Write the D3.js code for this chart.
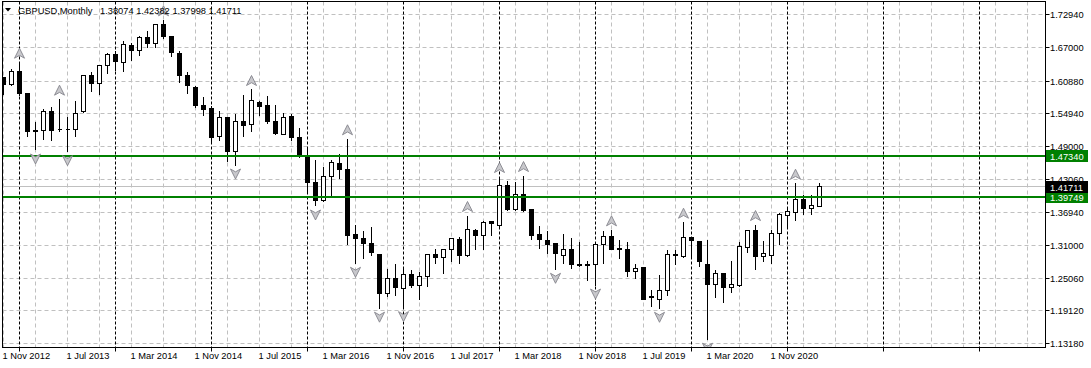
<!DOCTYPE html>
<html>
<head>
<meta charset="utf-8">
<script src="https://cdn.jsdelivr.net/npm/d3@7"></script>
<style>
  html, body { margin: 0; padding: 0; background: #ffffff; }
  svg { display: block; }
  text { font-family: "Liberation Sans", Arial, sans-serif; font-size: 9.3px; fill: #000; }
</style>
</head>
<body>
<svg id="chart" width="1091" height="368"></svg>
<script>
// ---------------- DATA ----------------
const symbolTitle = "GBPUSD,Monthly";
const firstMonth = "2012-11";   // first candle (monthly bars)

const opens = [1.6156,1.6018,1.6259,1.5867,1.5186,1.5186,1.5545,1.5211,1.5203,1.5212,
  1.5532,1.6194,1.6049,1.6376,1.6581,1.6430,1.6727,1.6654,1.6885,1.6776,
  1.7121,1.6896,1.6594,1.6199,1.5976,1.5649,1.5594,1.5078,1.5430,1.4805,
  1.5358,1.5303,1.5703,1.5636,1.5358,1.5121,1.5454,1.5067,1.4745,1.4249,
  1.3914,1.4350,1.4594,1.4485,1.3303,1.3230,1.3140,1.2927,1.2230,1.2503,
  1.2321,1.2576,1.2369,1.2532,1.2940,1.2878,1.3018,1.3212,1.2914,1.3381,
  1.3278,1.3532,1.3472,1.4199,1.3758,1.4036,1.3763,1.3303,1.3187,1.3127,
  1.2914,1.3036,1.2751,1.2745,1.2758,1.3109,1.3272,1.3030,1.3030,1.2623,
  1.2696,1.2158,1.2127,1.2278,1.2945,1.2896,1.3249,1.3181,1.2763,1.2399,
  1.2594,1.2340,1.2369,1.3067,1.3381,1.2896,1.2914,1.3321,1.3641,1.3703,
  1.3927,1.3776,1.38074];
const highs = [1.6165,1.6321,1.6441,1.5885,1.5350,1.5594,1.5623,1.5769,1.5454,1.5727,
  1.6205,1.6272,1.6394,1.6605,1.6654,1.6823,1.6787,1.6909,1.7005,1.7127,
  1.7212,1.6909,1.6654,1.6272,1.6000,1.5805,1.5636,1.5563,1.5450,1.5503,
  1.5836,1.5945,1.5745,1.5823,1.5672,1.5514,1.5503,1.5249,1.4896,1.4667,
  1.4540,1.4667,1.4776,1.5049,1.3490,1.3381,1.3454,1.2945,1.2685,1.2776,
  1.2714,1.2667,1.2623,1.2958,1.3049,1.3049,1.3249,1.3272,1.3654,1.3412,
  1.3563,1.3563,1.4363,1.4290,1.4260,1.4381,1.3770,1.3472,1.3369,1.3140,
  1.3309,1.3249,1.3169,1.2836,1.3145,1.3369,1.3394,1.3212,1.3181,1.2776,
  1.2714,1.2303,1.2581,1.3018,1.3018,1.3532,1.3260,1.3190,1.3200,1.2667,
  1.2600,1.2818,1.3181,1.3394,1.3490,1.3187,1.3394,1.3703,1.3805,1.4241,
  1.4018,1.4018,1.42382];
const lows = [1.5836,1.6000,1.5830,1.5078,1.4836,1.5030,1.5005,1.5181,1.4805,1.5090,
  1.5520,1.5896,1.5854,1.6230,1.6278,1.6259,1.6459,1.6545,1.6696,1.6696,
  1.6867,1.6532,1.6060,1.5867,1.5600,1.5472,1.4958,1.5007,1.4623,1.4563,
  1.5078,1.5169,1.5472,1.5321,1.5109,1.5109,1.5007,1.4700,1.4078,1.3818,
  1.3896,1.3987,1.4321,1.3109,1.2776,1.2867,1.2914,1.1960,1.2169,1.2199,
  1.1970,1.2340,1.2109,1.2351,1.2776,1.2594,1.2805,1.2776,1.2896,1.3030,
  1.3030,1.3290,1.3441,1.3740,1.3732,1.3714,1.3212,1.3049,1.2958,1.2667,
  1.2776,1.2685,1.2714,1.2472,1.2381,1.2776,1.3018,1.2867,1.2545,1.2503,
  1.2109,1.1999,1.1958,1.2199,1.2752,1.2880,1.2896,1.2714,1.1395,1.2150,
  1.2060,1.2241,1.2351,1.2976,1.2667,1.2805,1.2776,1.3121,1.3441,1.3550,
  1.3667,1.3667,1.37998];
const closes = [1.6018,1.6259,1.5867,1.5168,1.5168,1.5545,1.5186,1.5203,1.5211,1.5503,
  1.6194,1.6049,1.6376,1.6581,1.6441,1.6758,1.6654,1.6885,1.6776,1.7121,
  1.6896,1.6605,1.6199,1.6000,1.5636,1.5576,1.5067,1.5430,1.4805,1.5350,
  1.5278,1.5727,1.5623,1.5350,1.5127,1.5430,1.5067,1.4714,1.4241,1.3914,
  1.4363,1.4612,1.4485,1.3290,1.3223,1.3140,1.2976,1.2230,1.2503,1.2340,
  1.2569,1.2381,1.2545,1.2940,1.2878,1.3036,1.3218,1.2914,1.3394,1.3278,
  1.3521,1.3503,1.4199,1.3758,1.4036,1.3732,1.3290,1.3212,1.3121,1.2958,
  1.3036,1.2758,1.2740,1.2756,1.3109,1.3272,1.3030,1.3040,1.2623,1.2685,
  1.2127,1.2167,1.2290,1.2945,1.2925,1.3249,1.3187,1.2805,1.2399,1.2594,
  1.2340,1.2399,1.3090,1.3381,1.2896,1.2958,1.3321,1.3672,1.3714,1.3927,
  1.3776,1.3818,1.41711];

// Bill Williams fractals (bar indexes)
const fractalUp = [2, 7, 20, 31, 43, 58, 62, 65, 76, 85, 94, 99];
const fractalDown = [4, 8, 29, 39, 44, 47, 50, 69, 74, 82, 88];

// horizontal levels (green lines)
const levels = [1.47340, 1.39749];

// axis tick labels
const priceTicks = ["1.72940","1.67000","1.60880","1.54940","1.49000","1.43060",
  "1.36940","1.31000","1.25060","1.19120","1.13180"];
const timeTicks = ["1 Nov 2012","1 Jul 2013","1 Mar 2014","1 Nov 2014","1 Jul 2015",
  "1 Mar 2016","1 Nov 2016","1 Jul 2017","1 Mar 2018","1 Nov 2018","1 Jul 2019",
  "1 Mar 2020","1 Nov 2020"];

// ---------------- LAYOUT ----------------
const svg = d3.select("#chart");
const plot = { left: 2.5, top: 1.5, right: 1045.5, bottom: 347.5 };
const barSpacing = 8;

const start = d3.timeParse("%Y-%m")(firstMonth);
const bars = opens.map((o, i) => ({
  i, date: d3.timeMonth.offset(start, i), o, h: highs[i], l: lows[i], c: closes[i]
}));
const nBars = bars.length;

const x = d3.scaleLinear().domain([0, nBars - 1]).range([3.5, 3.5 + barSpacing * (nBars - 1)]);
const y = d3.scaleLinear().domain([1.1318, 1.7294]).range([343.5, 14.8]);
const crisp = v => Math.round(v - 0.5) + 0.5;

// clip
svg.append("defs").append("clipPath").attr("id", "clip")
  .append("rect").attr("x", plot.left + 0.5).attr("y", plot.top + 0.5)
  .attr("width", plot.right - plot.left - 1).attr("height", plot.bottom - plot.top - 1);

const g = svg.append("g").attr("clip-path", "url(#clip)");

// vertical grid (every 4 bars, continues to the right edge)
const vGrid = d3.range(0, 1000).filter(k => x(k) < plot.right && k % 4 === 0);
g.append("g").selectAll("line").data(vGrid).join("line")
  .attr("x1", d => x(d)).attr("x2", d => x(d))
  .attr("y1", plot.top).attr("y2", plot.bottom)
  .attr("stroke", "#c0c0c0").attr("stroke-dasharray", "4,3");

// horizontal grid
g.append("g").selectAll("line").data(priceTicks).join("line")
  .attr("x1", plot.left).attr("x2", plot.right)
  .attr("y1", d => crisp(y(+d))).attr("y2", d => crisp(y(+d)))
  .attr("stroke", "#c0c0c0").attr("stroke-dasharray", "4,3");

// period separators (January of each year)
const sepIdx = d3.range(0, 1000).filter(k => x(k) < plot.right &&
  d3.timeMonth.offset(start, k).getMonth() === 0);
g.append("g").selectAll("line").data(sepIdx).join("line")
  .attr("x1", d => x(d)).attr("x2", d => x(d))
  .attr("y1", plot.top).attr("y2", plot.bottom)
  .attr("stroke", "#000").attr("stroke-dasharray", "3,2");

// current price line (last close)
const lastClose = closes[closes.length - 1];
g.append("line")
  .attr("x1", plot.left).attr("x2", plot.right)
  .attr("y1", crisp(y(lastClose))).attr("y2", crisp(y(lastClose)))
  .attr("stroke", "#c0c0c0");

// candles
const cg = g.append("g").attr("shape-rendering", "crispEdges");
cg.selectAll("line.wick").data(bars).join("line").attr("class", "wick")
  .attr("x1", d => x(d.i)).attr("x2", d => x(d.i))
  .attr("y1", d => crisp(y(d.h))).attr("y2", d => crisp(y(d.l)) + 0.5)
  .attr("stroke", "#000");
cg.selectAll("path.body").data(bars).join("path").attr("class", "body")
  .attr("d", d => {
    const x0 = x(d.i) - 2, x1 = x(d.i) + 2;
    const y0 = crisp(y(Math.max(d.o, d.c))), y1 = crisp(y(Math.min(d.o, d.c)));
    return `M${x0},${y0}H${x1}V${y1}H${x0}Z`;
  })
  .attr("fill", d => d.c >= d.o ? "#ffffff" : "#000000")
  .attr("stroke", "#000");

// green levels (drawn on top)
g.append("g").selectAll("line").data(levels).join("line")
  .attr("x1", plot.left).attr("x2", plot.right)
  .attr("y1", d => Math.round(y(d))).attr("y2", d => Math.round(y(d)))
  .attr("stroke", "#008000").attr("stroke-width", 2);

// fractal arrows
const upPath = "M0,-5L5,5L0,2.2L-5,5Z";
const fg = g.append("g");
fg.selectAll("path.up").data(fractalUp).join("path").attr("class", "up")
  .attr("d", upPath)
  .attr("transform", d => `translate(${x(d)},${y(highs[d]) - 8.5})`)
  .attr("fill", "#c8c8cc").attr("stroke", "#85858c").attr("stroke-width", 0.9)
  .attr("stroke-linejoin", "round");
fg.selectAll("path.dn").data(fractalDown).join("path").attr("class", "dn")
  .attr("d", upPath)
  .attr("transform", d => `translate(${x(d)},${y(lows[d]) + 9}) scale(1,-1)`)
  .attr("fill", "#c8c8cc").attr("stroke", "#85858c").attr("stroke-width", 0.9)
  .attr("stroke-linejoin", "round");

// frame
svg.append("rect")
  .attr("x", plot.left).attr("y", plot.top)
  .attr("width", plot.right - plot.left).attr("height", plot.bottom - plot.top)
  .attr("fill", "none").attr("stroke", "#000");

// right price axis
const ra = svg.append("g");
ra.selectAll("line").data(priceTicks).join("line")
  .attr("x1", plot.right).attr("x2", plot.right + 4)
  .attr("y1", d => crisp(y(+d))).attr("y2", d => crisp(y(+d)))
  .attr("stroke", "#000");
ra.selectAll("text").data(priceTicks).join("text")
  .attr("x", 1050).attr("y", d => y(+d) + 3.5)
  .text(d => d);

// price label boxes
const boxes = [
  ...levels.map(v => ({ v, fill: "#008000" })),
  { v: lastClose, fill: "#000000" }
];
const bg = svg.append("g");
bg.selectAll("rect").data(boxes).join("rect")
  .attr("x", 1046).attr("y", d => Math.round(y(d.v)) - 6)
  .attr("width", 42).attr("height", 12)
  .attr("fill", d => d.fill);
bg.selectAll("text").data(boxes).join("text")
  .attr("x", 1050).attr("y", d => Math.round(y(d.v)) + 3.5)
  .style("fill", "#ffffff")
  .text(d => d3.format(".5f")(d.v));

// bottom time axis
const parseTick = d3.timeParse("%d %b %Y");
const tickIdx = timeTicks.map(t => d3.timeMonth.count(start, parseTick(t)));
const ta = svg.append("g");
ta.selectAll("line").data(sepIdx).join("line")
  .attr("x1", d => x(d)).attr("x2", d => x(d))
  .attr("y1", plot.bottom).attr("y2", plot.bottom + 4)
  .attr("stroke", "#000");
ta.selectAll("text").data(timeTicks).join("text")
  .attr("x", (d, k) => x(tickIdx[k]) - 1)
  .attr("y", 359)
  .text(d => d);

// title
svg.append("path").attr("d", "M5,8L11,8L8,11.5Z").attr("fill", "#000");
svg.append("text").attr("x", 18).attr("y", 13.5).text(symbolTitle);
svg.append("text").attr("x", 100).attr("y", 13.5)
  .text([opens, highs, lows, closes].map(a => a[a.length - 1].toFixed(5)).join(" "));
</script>
</body>
</html>
